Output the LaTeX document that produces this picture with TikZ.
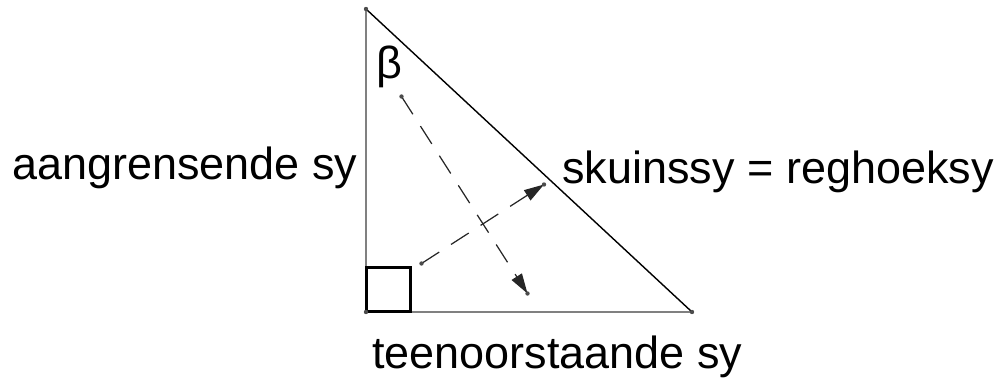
\documentclass[tikz,border=0pt]{standalone}
\usepackage{fontspec}
\setmainfont{Liberation Sans}
\usetikzlibrary{arrows.meta}
\begin{document}
\begin{tikzpicture}[x=0.02cm,y=-0.02cm,
  lbl/.style={inner sep=0pt,font=\fontsize{25.6}{30}\selectfont,anchor=base west},
  leg/.style={draw=black!50,line width=1.1pt},
  hyp/.style={draw=black,line width=0.8pt},
  rightsq/.style={draw=black,line width=1.6pt},
  dasharrow/.style={draw=black!85,line width=0.7pt,dash pattern=on 12 off 8,
    -{Triangle[length=0.4cm,width=0.24cm]}},
  pt/.style={circle,fill=black!70,inner sep=0pt,minimum size=2.5pt}]
\useasboundingbox (0,0) rectangle (1001,382);
\coordinate (A) at (366,9);
\coordinate (B) at (366,312);
\coordinate (C) at (692,312);
\coordinate (P1) at (401.5,96.5);
\coordinate (Q1) at (527.5,293.5);
\coordinate (P2) at (421.5,263.5);
\coordinate (Q2) at (544,184.5);
\draw[leg] (A) -- (B) -- (C);
\draw[hyp] (A) -- (C);
\draw[rightsq] (366.5,267.5) rectangle (410.5,311.5);
\draw[dasharrow] (P1) -- (Q1);
\draw[dasharrow] (P2) -- (Q2);
\foreach \p in {A,B,C,P1,Q1,P2,Q2} \node[pt] at (\p) {};
\node[inner sep=0pt,font=\fontsize{25.6}{30}\selectfont] (beta) at (389,67) {β};
\node[lbl] (adj) at (12,179) {aangrensende sy};
\node[lbl] (hypl) at (562,183) {skuinssy = reghoeksy};
\node[lbl] (opp) at (372,368) {teenoorstaande sy};
\end{tikzpicture}
\end{document}
